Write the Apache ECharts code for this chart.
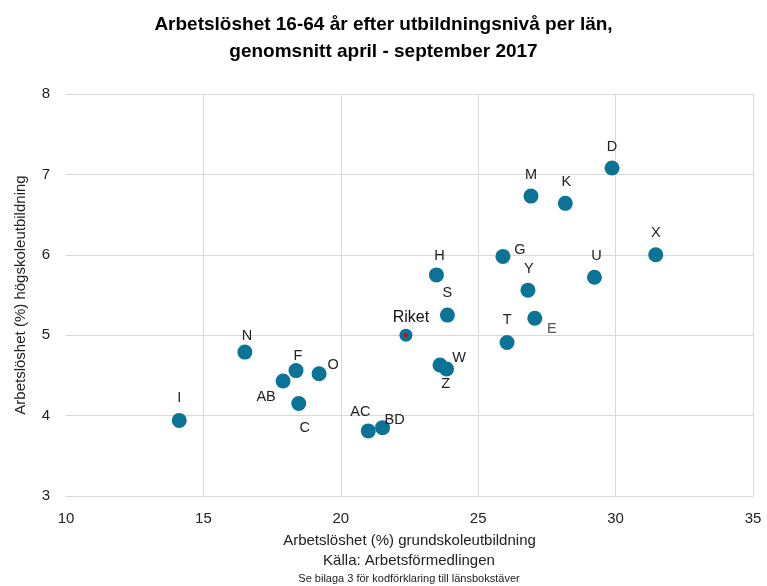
<!DOCTYPE html>
<html>
<head>
<meta charset="utf-8">
<script src="https://cdn.jsdelivr.net/npm/echarts@6/dist/echarts.min.js"></script>
<style>
  html, body { margin: 0; padding: 0; background: #fff; }
  #chart { width: 767px; height: 586px; }
</style>
</head>
<body>
<div id="chart"></div>
<script>
// County codes and unemployment (%) by education level, Apr–Sep 2017 average
const counties = ['I', 'N', 'F', 'O', 'AB', 'C', 'AC', 'BD', 'Riket', 'H', 'S', 'W', 'Z',
                  'G', 'Y', 'E', 'T', 'D', 'M', 'K', 'X', 'U'];
const primaryEdu = [14.12, 16.51, 18.37, 19.21, 17.90, 18.47, 21.00, 21.52, 22.37, 23.48, 23.88, 23.61, 23.85,
                    25.90, 26.81, 27.06, 26.05, 29.87, 26.92, 28.17, 31.46, 29.23];
const higherEdu = [3.94, 4.79, 4.56, 4.52, 4.43, 4.15, 3.81, 3.85, 5.00, 5.75, 5.25, 4.63, 4.58,
                   5.98, 5.56, 5.21, 4.91, 7.08, 6.73, 6.64, 6.00, 5.72];

const xTicks = [10, 15, 20, 25, 30, 35];
const yTicks = [3, 4, 5, 6, 7, 8];

// Where each code label sits relative to its marker
const labelOffsets = {
  I: [0, -22], N: [2, -16], F: [2, -15], O: [14, -9], AB: [-17, 16], C: [6, 24],
  AC: [-8, -19], BD: [12, -8], Riket: [5, -18], H: [3, -19], S: [0, -22], W: [19, -7],
  Z: [-1, 15], G: [17, -6], Y: [1, -21], E: [17, 11], T: [0, -22], D: [0, -21],
  M: [0, -21], K: [1, -21], X: [0, -22], U: [2, -21]
};

const dotColor = '#0b7396';
const font = 'Liberation Sans, Arial, sans-serif';

const points = counties.map((c, i) => {
  const isRiket = c === 'Riket';
  return {
    name: c,
    value: [primaryEdu[i], higherEdu[i]],
    symbolSize: isRiket ? 13 : 15,
    label: {
      show: true,
      formatter: c,
      position: 'inside',
      offset: labelOffsets[c],
      color: c === 'E' ? '#555' : (isRiket ? '#111' : '#222'),
      fontSize: isRiket ? 16 : 14.5,
      fontFamily: font
    }
  };
});

const riketIdx = counties.indexOf('Riket');

const chart = echarts.init(document.getElementById('chart'), null, { renderer: 'canvas' });
chart.setOption({
  animation: false,
  backgroundColor: '#fff',
  title: {
    text: 'Arbetslöshet 16-64 år efter utbildningsnivå per län,\ngenomsnitt april - september 2017',
    left: 'center',
    top: 6,
    textStyle: { fontFamily: font, fontWeight: 'bold', fontSize: 19, color: '#000', lineHeight: 27 }
  },
  grid: { left: 66, right: 14, top: 94, bottom: 90, containLabel: false },
  xAxis: {
    type: 'value',
    min: xTicks[0],
    max: xTicks[xTicks.length - 1],
    interval: xTicks[1] - xTicks[0],
    axisLine: { show: true, lineStyle: { color: '#d9d9d9', width: 1 } },
    axisTick: { show: false },
    axisLabel: { color: '#222', fontSize: 15, fontFamily: font, margin: 15 },
    splitLine: { show: true, showMinLine: false, lineStyle: { color: '#d9d9d9', width: 1 } },
    name: 'Arbetslöshet (%) grundskoleutbildning',
    nameLocation: 'middle',
    nameGap: 37,
    nameTextStyle: { color: '#222', fontSize: 15, fontFamily: font }
  },
  yAxis: {
    type: 'value',
    min: yTicks[0],
    max: yTicks[yTicks.length - 1],
    interval: yTicks[1] - yTicks[0],
    axisLine: { show: false },
    axisTick: { show: false },
    axisLabel: { color: '#222', fontSize: 15, fontFamily: font, margin: 16 },
    splitLine: { show: true, lineStyle: { color: '#d9d9d9', width: 1 } },
    name: 'Arbetslöshet (%) högskoleutbildning',
    nameLocation: 'middle',
    nameGap: 38,
    nameTextStyle: { color: '#222', fontSize: 15, fontFamily: font }
  },
  graphic: [
    {
      type: 'text', x: 409, y: 553,
      style: { text: 'Källa: Arbetsförmedlingen', fill: '#222', font: '15px ' + font, textAlign: 'center' }
    },
    {
      type: 'text', x: 409, y: 573,
      style: { text: 'Se bilaga 3 för kodförklaring till länsbokstäver', fill: '#222', font: '11px ' + font, textAlign: 'center' }
    }
  ],
  series: [
    {
      type: 'scatter',
      data: points,
      itemStyle: { color: dotColor, opacity: 1 },
      emphasis: { disabled: true },
      z: 2
    },
    {
      // red centre mark on the national average
      type: 'scatter',
      data: [[primaryEdu[riketIdx], higherEdu[riketIdx]]],
      symbolSize: 4,
      itemStyle: { color: '#e0001b', opacity: 1 },
      silent: true,
      z: 10
    }
  ]
});
</script>
</body>
</html>
